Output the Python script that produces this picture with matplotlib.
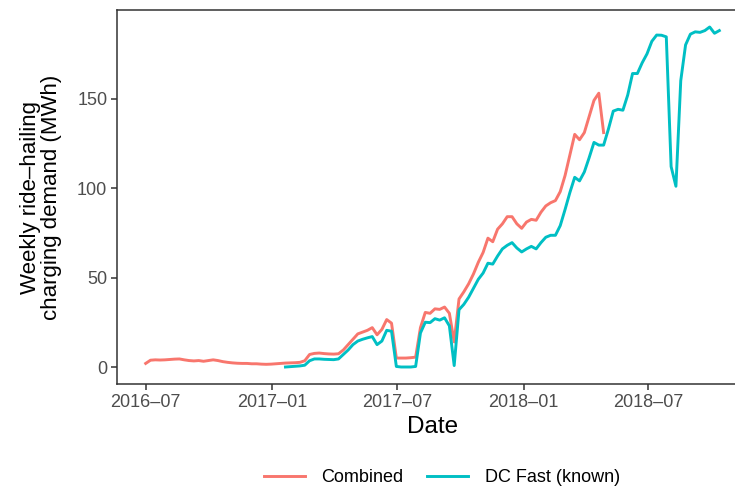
import matplotlib.pyplot as plt
import matplotlib.dates as mdates
import pandas as pd

plt.rcParams['font.family'] = ['Liberation Sans', 'DejaVu Sans']

# weekly values, first week 2016-07-01
weeks = pd.date_range('2016-07-01', periods=120, freq='7D')

combined = [2.0, 3.8, 4.0, 3.9, 4.0, 4.2, 4.4, 4.5, 4.0, 3.6,
            3.4, 3.6, 3.2, 3.6, 4.0, 3.6, 3.0, 2.6, 2.3, 2.1,
            2.0, 2.0, 1.8, 1.8, 1.6, 1.5, 1.6, 1.8, 2.0, 2.2,
            2.3, 2.4, 2.6, 3.5, 7.0, 7.6, 7.8, 7.5, 7.3, 7.2,
            7.4, 9.5, 12.5, 15.5, 18.5, 19.5, 20.5, 22.0, 18.0, 21.0,
            26.5, 24.5, 5.0, 5.0, 5.0, 5.2, 5.5, 22.0, 30.5, 30.0,
            32.5, 32.2, 33.5, 30.0, 14.0, 38.0, 42.0, 46.5, 52.0, 58.5,
            64.0, 72.0, 70.0, 77.0, 80.0, 84.0, 84.0, 80.0, 77.5, 81.0,
            82.5, 82.0, 86.5, 90.0, 91.8, 93.0, 98.0, 107.0, 118.5, 130.0,
            127.0, 131.0, 140.0, 149.0, 153.0, 131.0]

# DC fast starts at week 29
dc_start = 29
dc_fast = [0.0, 0.2, 0.4, 0.6, 1.0, 3.5, 4.5, 4.5, 4.3, 4.2,
           4.1, 4.5, 7.0, 9.5, 12.5, 14.5, 15.5, 16.3, 17.0, 12.5,
           14.5, 20.5, 20.0, 0.3, 0.0, 0.0, 0.0, 0.3, 19.0, 25.0,
           24.8, 27.0, 26.2, 27.5, 23.0, 0.8, 32.0, 35.0, 39.0, 44.0,
           49.0, 52.5, 58.0, 57.5, 62.0, 66.0, 68.0, 69.5, 66.5, 64.3,
           66.0, 67.4, 66.0, 69.5, 72.5, 73.6, 73.6, 79.0, 88.0, 97.5,
           106.0, 104.0, 109.0, 117.0, 125.5, 124.0, 124.0, 133.0, 143.0, 144.0,
           143.5, 152.0, 164.0, 164.0, 170.0, 175.0, 182.0, 185.5, 185.4, 184.5,
           112.0, 101.0, 160.0, 180.0, 186.0, 187.3, 187.0, 188.0, 190.0, 186.5,
           188.0]

x_ticks = pd.to_datetime(['2016-07-01', '2017-01-01', '2017-07-01', '2018-01-01', '2018-07-01'])
x_labels = ['2016\u201307', '2017\u201301', '2017\u201307', '2018\u201301', '2018\u201307']
y_ticks = [0, 50, 100, 150]

fig = plt.figure(figsize=(7.35, 4.87), dpi=100)
ax = fig.add_axes([117 / 735, 103 / 487, 631 / 735, 374 / 487])

ax.plot(weeks[:len(combined)], combined, color='#F8766D', lw=2.1, label='Combined')
ax.plot(weeks[dc_start:dc_start + len(dc_fast)], dc_fast, color='#00BFC4', lw=2.1,
        label='DC Fast (known)')

ax.margins(x=0.05, y=0.05)
ax.set_xticks(x_ticks)
ax.set_xticklabels(x_labels)
ax.set_yticks(y_ticks)

ax.tick_params(axis='both', labelsize=13, labelcolor='#4D4D4D', color='#333333',
               length=4, width=1.1, direction='out', pad=3)
for s in ax.spines.values():
    s.set_color('#333333')
    s.set_linewidth(1.1)

ax.set_xlabel('Date', fontsize=17.5, labelpad=4)
ax.set_ylabel('Weekly ride\u2013hailing\ncharging demand (MWh)', fontsize=16,
              labelpad=11, linespacing=1.0)

fig.legend(loc='center', bbox_to_anchor=(0.601, 0.0185), ncol=2, frameon=False,
           fontsize=13, handlelength=2.3, handletextpad=0.9, columnspacing=1.3)

fig.savefig('out.png', dpi=100)
